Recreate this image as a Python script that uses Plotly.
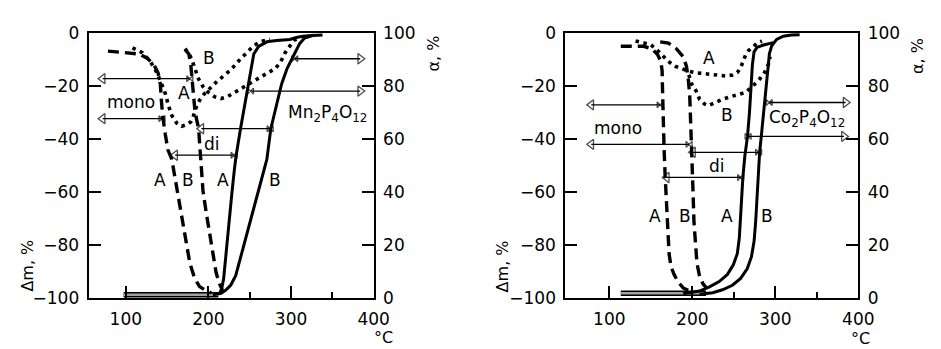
import plotly.graph_objects as go

FONT = "DejaVu Sans"

# ---------------- Left panel: Mn2P4O12 ----------------
# dashed curves (Δm, %)
mn_dashA_T = [78.4, 92.3, 104.2, 116.1, 126.0, 133.9, 139.1, 141.8, 143.0, 144.6, 147.8, 151.0,
              155.7, 159.7, 165.6, 169.6, 173.6, 177.5, 183.5, 189.4, 195.4, 203.3]
mn_dashA_dm = [-6.8, -7.1, -7.4, -7.9, -9.5, -11.9, -15.1, -19.2, -25.1, -31.1, -38.2, -44.1,
               -47.7, -54.8, -65.5, -73.8, -80.9, -86.8, -92.8, -95.7, -96.9, -98.1]
mn_dashB_T = [171.6, 176.3, 178.7, 180.3, 181.9, 183.5, 185.5, 188.2, 189.4, 190.6, 193.4, 197.4,
              201.3, 205.3, 209.3, 213.2, 217.2]
mn_dashB_dm = [-6.2, -7.9, -12.1, -18.0, -24.0, -28.7, -32.3, -36.1, -41.8, -47.7, -59.5, -67.9,
               -75.0, -83.3, -90.4, -94.5, -97.3]
# dotted curves (Δm, %)
mn_dotA_T = [108.1, 120.0, 130.0, 135.9, 141.8, 147.8, 151.8, 155.7, 161.7, 167.6, 173.6, 178.7,
             181.5, 184.3, 189.2, 195.4, 211.2, 227.1, 239.0, 246.9, 254.1, 262.8, 274.7]
mn_dotA_dm = [-5.6, -7.4, -10.9, -13.9, -18.0, -22.8, -27.5, -31.1, -34.0, -35.2, -34.6, -33.5,
              -31.7, -28.7, -25.4, -22.8, -18.0, -13.9, -9.7, -7.1, -5.0, -3.2, -2.4]
mn_dotB_T = [171.6, 176.3, 180.3, 184.3, 188.2, 193.4, 199.3, 207.3, 215.2, 223.1, 235.0, 246.9,
             258.8, 270.7, 280.6, 287.4, 292.5, 297.7, 303.2, 310.4]
mn_dotB_dm = [-5.9, -7.6, -10.3, -13.9, -17.4, -20.2, -22.2, -24.0, -24.7, -24.0, -21.8, -19.5,
              -17.1, -15.2, -13.5, -10.9, -7.6, -5.0, -2.8, -1.7]
# solid curves (α, %)
mn_solA_T = [213.2, 216.0, 218.4, 221.1, 225.1, 228.3, 231.1, 233.4, 239.0, 243.8, 246.9, 250.9,
             254.9, 260.8, 270.7, 282.6, 298.5, 306.4, 314.3, 328.2]
mn_solA_alpha = [1.5, 3.4, 7.2, 16.7, 28.6, 39.3, 47.6, 53.5, 64.2, 72.5, 77.8, 86.1,
                 92.1, 95.0, 96.7, 97.2, 97.6, 98.3, 98.8, 99.2]
mn_solB_T = [205.3, 215.2, 221.1, 227.1, 233.0, 239.0, 246.9, 254.9, 262.8, 270.7, 275.5, 281.8,
             288.6, 295.3, 302.4, 310.4, 316.3, 326.2, 338.1]
mn_solB_alpha = [1.2, 1.8, 3.0, 4.9, 8.4, 15.5, 23.8, 33.3, 42.8, 52.3, 63.9, 72.5,
                 80.8, 86.7, 90.9, 96.0, 98.1, 99.1, 99.3]
mn_base_T = [97.4, 212.0]
mn_base_dm = [-98.8, -98.8]
# arrows
mn_arrow_dm = [-17.2, -32.3, -36.1, -46.1, -9.7, -21.9]
mn_arrow_from = [177.5, 143.8, 274.7, 231.1, 304.4, 250.9]
mn_arrow_to = [72.0, 72.0, 191.4, 159.7, 383.7, 383.7]
# labels
mn_label_text = ["mono", "A", "B", "di", "A", "B", "A", "B", "Mn<sub>2</sub>P<sub>4</sub>O<sub>12</sub>"]
mn_label_T = [105.8, 170.4, 201.3, 204.3, 141.8, 175.5, 217.2, 280.6, 344.1]
mn_label_dm = [-26.1, -22.8, -9.5, -41.8, -55.4, -55.4, -55.4, -55.4, -30.5]

# ---------------- Right panel: Co2P4O12 ----------------
co_dashA_T = [113.8, 129.6, 141.5, 151.4, 158.1, 162.1, 163.6, 164.0, 164.4, 165.2, 166.0, 167.2,
              168.0, 169.2, 170.4, 172.0, 174.3, 177.9, 183.0, 189.0, 196.9]
co_dashA_dm = [-5.0, -5.0, -5.0, -6.0, -8.1, -10.7, -14.3, -20.2, -27.4, -35.7, -44.0, -53.6,
               -59.5, -67.9, -76.2, -83.3, -88.1, -91.1, -94.0, -96.2, -97.4]
co_dashB_T = [161.3, 171.2, 181.0, 189.0, 192.9, 195.3, 196.9, 197.7, 198.4, 199.2, 200.0, 200.8,
              202.0, 203.6, 205.6, 208.7, 212.7, 217.4]
co_dashB_dm = [-3.3, -3.8, -6.0, -8.9, -12.5, -17.9, -23.8, -29.8, -35.7, -41.7, -47.6, -59.5,
               -71.4, -79.8, -86.9, -91.7, -94.6, -96.4]
co_dotA_T = [131.6, 141.5, 149.4, 155.3, 160.5, 165.2, 171.2, 179.1, 187.0, 194.9, 204.8, 216.6,
             228.5, 240.4, 248.3, 254.2, 258.2, 260.9, 264.1, 268.0, 272.8, 277.9, 283.9]
co_dotA_dm = [-3.0, -3.6, -4.3, -5.7, -7.4, -8.9, -10.7, -12.5, -13.5, -14.3, -15.0, -15.5,
              -15.8, -16.2, -15.8, -14.9, -13.1, -10.7, -8.3, -6.5, -5.4, -3.8, -3.0]
co_dotB_T = [190.9, 196.1, 198.8, 204.8, 208.7, 214.7, 219.4, 226.5, 236.4, 248.3, 256.2, 264.1,
             272.0, 279.9, 287.0, 291.8, 293.7]
co_dotB_dm = [-13.1, -16.1, -19.0, -22.0, -25.0, -26.8, -27.4, -26.3, -25.0, -23.8, -23.0, -22.4,
              -20.2, -17.9, -14.9, -11.7, -8.9]
co_solA_T = [189.0, 208.7, 220.6, 232.4, 242.3, 249.4, 254.2, 256.6, 258.2, 259.3, 260.9, 263.3,
             266.5, 268.9, 270.8, 272.4, 274.4, 277.9, 285.8, 293.7, 297.7]
co_solA_alpha = [1.7, 2.6, 4.2, 6.2, 8.9, 12.5, 16.7, 22.6, 31.0, 39.3, 45.5, 53.6,
                 61.0, 70.2, 79.8, 88.1, 92.9, 94.6, 95.5, 96.0, 96.4]
co_solB_T = [208.7, 224.5, 236.4, 248.3, 258.2, 266.1, 271.2, 274.4, 276.3, 277.5, 278.7, 279.9,
             281.1, 283.1, 285.8, 288.6, 291.0, 292.9, 295.7, 301.6, 309.6, 319.4, 329.3]
co_solB_alpha = [1.4, 2.0, 3.1, 4.8, 7.4, 11.0, 15.5, 21.4, 28.6, 35.7, 44.0, 51.2,
                 55.0, 61.0, 70.2, 78.6, 86.9, 92.3, 95.2, 97.6, 98.8, 99.3, 99.4]
co_base_T = [113.8, 216.6]
co_base_dm = [-98.2, -98.2]
co_arrow_dm = [-27.1, -42.0, -45.0, -54.5, -26.2, -39.0]
co_arrow_from = [161.3, 196.1, 279.9, 258.2, 292.6, 267.2]
co_arrow_to = [78.2, 78.2, 200.8, 169.2, 384.7, 382.7]
co_label_text = ["A", "B", "mono", "di", "A", "B", "A", "B", "Co<sub>2</sub>P<sub>4</sub>O<sub>12</sub>"]
co_label_T = [220.6, 242.3, 109.9, 229.3, 155.3, 190.9, 242.3, 289.8, 338.0]
co_label_dm = [-9.5, -31.0, -35.7, -50.0, -69.0, -69.0, -69.0, -69.0, -32.4]

# axes
x_major = [100, 200, 300, 400]
x_minor = [250, 350]
dm_ticks = [-100, -80, -60, -40, -20, 0]
alpha_ticks = [0, 20, 40, 60, 80, 100]

fig = go.Figure()


def add_line(T, v, xa, ya, dash, width):
    fig.add_trace(go.Scatter(x=T, y=v, xaxis=xa, yaxis=ya, mode="lines",
                             line=dict(color="black", width=width, dash=dash),
                             hoverinfo="skip", showlegend=False))


def add_base(T, v, xa, ya):
    fig.add_trace(go.Scatter(x=T, y=v, xaxis=xa, yaxis=ya, mode="lines",
                             line=dict(color="black", width=5.5), hoverinfo="skip", showlegend=False))
    fig.add_trace(go.Scatter(x=T, y=v, xaxis=xa, yaxis=ya, mode="lines",
                             line=dict(color="#a0a0a0", width=2.6), hoverinfo="skip", showlegend=False))


def add_arrows(ys, x_from, x_to, xa, ya):
    for y, a, b in zip(ys, x_from, x_to):
        head = "triangle-left-open" if b < a else "triangle-right-open"
        fig.add_trace(go.Scatter(
            x=[a, b], y=[y, y], xaxis=xa, yaxis=ya, mode="lines+markers",
            line=dict(color="black", width=1.3),
            marker=dict(symbol=["bowtie-open", head], size=[6, 9], color="black",
                        line=dict(color="black", width=1.3)),
            hoverinfo="skip", showlegend=False))


def add_labels(texts, Ts, vs, xa, ya):
    for t, x, y in zip(texts, Ts, vs):
        fig.add_annotation(x=x, y=y, xref=xa, yref=ya, text=t, showarrow=False,
                           xanchor="center", yanchor="middle",
                           font=dict(family=FONT, size=17, color="black"))


DOT = "3.5px,4.5px"
DASH = "11px,6px"

panels = [
    ("x", "y", "y2", mn_dashA_T, mn_dashA_dm, mn_dashB_T, mn_dashB_dm, mn_dotA_T, mn_dotA_dm,
     mn_dotB_T, mn_dotB_dm, mn_solA_T, mn_solA_alpha, mn_solB_T, mn_solB_alpha, mn_base_T, mn_base_dm,
     mn_arrow_dm, mn_arrow_from, mn_arrow_to, mn_label_text, mn_label_T, mn_label_dm),
    ("x2", "y3", "y4", co_dashA_T, co_dashA_dm, co_dashB_T, co_dashB_dm, co_dotA_T, co_dotA_dm,
     co_dotB_T, co_dotB_dm, co_solA_T, co_solA_alpha, co_solB_T, co_solB_alpha, co_base_T, co_base_dm,
     co_arrow_dm, co_arrow_from, co_arrow_to, co_label_text, co_label_T, co_label_dm),
]

for (xa, ya, ya2, dAT, dAv, dBT, dBv, oAT, oAv, oBT, oBv, sAT, sAv, sBT, sBv, bT, bv,
     ady, afr, ato, lt, lT, lv) in panels:
    add_base(bT, bv, xa, ya)
    add_line(dAT, dAv, xa, ya, DASH, 3.4)
    add_line(dBT, dBv, xa, ya, DASH, 3.4)
    add_line(oAT, oAv, xa, ya, DOT, 3.6)
    add_line(oBT, oBv, xa, ya, DOT, 3.6)
    add_line(sAT, sAv, xa, ya2, "solid", 3.0)
    add_line(sBT, sBv, xa, ya2, "solid", 3.0)
    add_arrows(ady, afr, ato, xa, ya)
    add_labels(lt, lT, lv, xa, ya)

W, H = 941, 349
ydom = [(H - 297) / H, (H - 16) / H]
tickfont = dict(family=FONT, size=17, color="black")


def xaxis_cfg(dom, rng, anchor):
    return dict(domain=dom, range=rng, anchor=anchor, showline=True, mirror=True, linewidth=2,
                linecolor="black", ticks="inside", ticklen=12, tickwidth=1.6, tickcolor="black",
                tickvals=x_major, tickfont=tickfont, ticklabelstandoff=5, showgrid=False,
                zeroline=False, minor=dict(tickvals=x_minor, ticks="inside", ticklen=6,
                                           tickwidth=1.6, tickcolor="black", showgrid=False))


def yaxis_cfg(anchor, rng, ticks, side, overlay=None):
    d = dict(domain=ydom, range=rng, anchor=anchor, side=side, showline=True, linewidth=2,
             linecolor="black", ticks="inside", ticklen=12, tickwidth=1.6, tickcolor="black",
             tickvals=ticks, tickfont=tickfont, ticklabelstandoff=4, showgrid=False, zeroline=False)
    if overlay:
        d["overlaying"] = overlay
    return d


fig.update_layout(
    width=W, height=H, margin=dict(l=0, r=0, t=0, b=0),
    paper_bgcolor="white", plot_bgcolor="white", showlegend=False,
    xaxis=xaxis_cfg([82 / W, 372 / W], [55, 400], "y"),
    yaxis=yaxis_cfg("x", [-100, 0], dm_ticks, "left"),
    yaxis2=yaxis_cfg("x", [0, 100], alpha_ticks, "right", "y"),
    xaxis2=xaxis_cfg([567 / W, 865 / W], [47, 400], "y3"),
    yaxis3=yaxis_cfg("x2", [-100, 0], dm_ticks, "left"),
    yaxis4=yaxis_cfg("x2", [0, 100], alpha_ticks, "right", "y3"),
)

titles = [
    ("Δm, %", 20, 263, -90),
    ("α, %", 433, 38, -90),
    ("°C", 382, 339, 0),
    ("Δm, %", 503, 263, -90),
    ("α, %", 925, 40, -90),
    ("°C", 867, 340, 0),
]
for t, px, py, ang in titles:
    fig.add_annotation(x=px / W, y=1 - py / H, xref="paper", yref="paper", text=t,
                       showarrow=False, textangle=ang, xanchor="center", yanchor="middle",
                       font=dict(family=FONT, size=16, color="black"))

fig.write_html("out.html")
